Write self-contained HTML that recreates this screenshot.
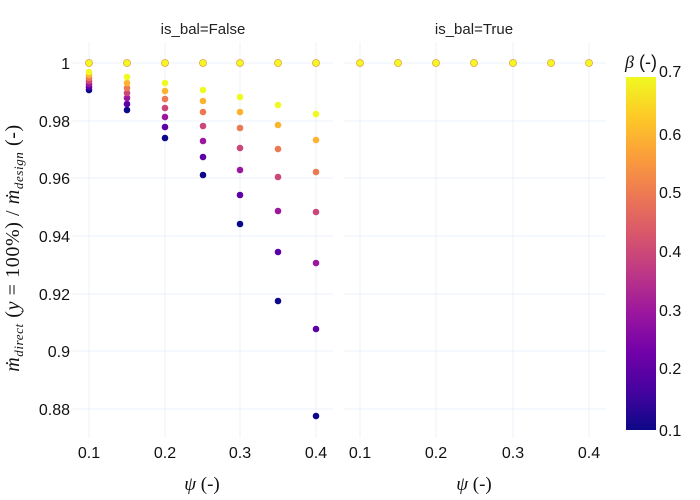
<!DOCTYPE html>
<html><head><meta charset="utf-8"><style>
html,body{margin:0;padding:0;background:#fff;}
svg{display:block;font-family:"Liberation Sans",sans-serif;}
</style></head><body>
<svg width="700" height="500" viewBox="0 0 700 500" xmlns="http://www.w3.org/2000/svg">
<defs>
<linearGradient id="pl" x1="0" y1="1" x2="0" y2="0">
<stop offset="0" stop-color="#0d0887"/><stop offset="0.111" stop-color="#46039f"/>
<stop offset="0.222" stop-color="#7201a8"/><stop offset="0.333" stop-color="#9c179e"/>
<stop offset="0.444" stop-color="#bd3786"/><stop offset="0.556" stop-color="#d8576b"/>
<stop offset="0.667" stop-color="#ed7953"/><stop offset="0.778" stop-color="#fb9f3a"/>
<stop offset="0.889" stop-color="#fdca26"/><stop offset="1" stop-color="#f0f921"/>
</linearGradient>
</defs>
<g stroke="#ebf0f8" stroke-width="1">
<line x1="72" x2="333" y1="63" y2="63"/><line x1="72" x2="333" y1="121" y2="121"/>
<line x1="72" x2="333" y1="178" y2="178"/><line x1="72" x2="333" y1="236" y2="236"/>
<line x1="72" x2="333" y1="294" y2="294"/><line x1="72" x2="333" y1="351" y2="351"/>
<line x1="72" x2="333" y1="409" y2="409"/>
<line x1="344" x2="606" y1="63" y2="63"/><line x1="344" x2="606" y1="121" y2="121"/>
<line x1="344" x2="606" y1="178" y2="178"/><line x1="344" x2="606" y1="236" y2="236"/>
<line x1="344" x2="606" y1="294" y2="294"/><line x1="344" x2="606" y1="351" y2="351"/>
<line x1="344" x2="606" y1="409" y2="409"/>
<line x1="89" x2="89" y1="42" y2="438"/><line x1="165" x2="165" y1="42" y2="438"/>
<line x1="240" x2="240" y1="42" y2="438"/><line x1="316" x2="316" y1="42" y2="438"/>
<line x1="360" x2="360" y1="42" y2="438"/><line x1="436" x2="436" y1="42" y2="438"/>
<line x1="513" x2="513" y1="42" y2="438"/><line x1="589" x2="589" y1="42" y2="438"/>
</g>
<g font-size="15" fill="#222" text-anchor="middle">
<text x="203" y="34">is_bal=False</text>
<text x="474" y="34">is_bal=True</text>
</g>
<g font-size="16" fill="#111" text-anchor="middle">
<text x="89" y="458">0.1</text><text x="165" y="458">0.2</text>
<text x="240" y="458">0.3</text><text x="316" y="458">0.4</text>
<text x="360" y="458">0.1</text><text x="436" y="458">0.2</text>
<text x="513" y="458">0.3</text><text x="589" y="458">0.4</text>
</g>
<g font-size="16" fill="#111" text-anchor="end">
<text x="70" y="69">1</text><text x="70" y="127">0.98</text>
<text x="70" y="184">0.96</text><text x="70" y="242">0.94</text>
<text x="70" y="300">0.92</text><text x="70" y="357">0.9</text>
<text x="70" y="415">0.88</text>
</g>
<g font-family="'Liberation Serif',serif" font-size="19" fill="#111" text-anchor="middle">
<text x="202" y="490"><tspan font-style="italic">ψ</tspan> (-)</text>
<text x="474" y="490"><tspan font-style="italic">ψ</tspan> (-)</text>
<text transform="translate(19,248) rotate(-90)" font-size="20" letter-spacing="0.6"><tspan font-style="italic">ṁ</tspan><tspan font-style="italic" font-size="13" dy="4">direct</tspan><tspan dy="-4"> (</tspan><tspan font-style="italic">y</tspan> = 100%) / <tspan font-style="italic">ṁ</tspan><tspan font-style="italic" font-size="13" dy="4">design</tspan><tspan dy="-4"> (-)</tspan></text>
</g>
<g>
<!-- psi 0.1 -->
<circle cx="89" cy="90" r="3.3" fill="#0d0887"/><circle cx="89" cy="87" r="3.3" fill="#5c02a4"/><circle cx="89" cy="84" r="3.3" fill="#9c179e"/><circle cx="89" cy="81" r="3.3" fill="#cb4679"/><circle cx="89" cy="78" r="3.3" fill="#ed7953"/><circle cx="89" cy="75" r="3.3" fill="#fcb430"/><circle cx="89" cy="72" r="3.3" fill="#f0f921"/>
<!-- 0.15 -->
<circle cx="127" cy="110" r="3.3" fill="#0d0887"/><circle cx="127" cy="104" r="3.3" fill="#5c02a4"/><circle cx="127" cy="98" r="3.3" fill="#9c179e"/><circle cx="127" cy="93" r="3.3" fill="#cb4679"/><circle cx="127" cy="88" r="3.3" fill="#ed7953"/><circle cx="127" cy="83" r="3.3" fill="#fcb430"/><circle cx="127" cy="77" r="3.3" fill="#f0f921"/>
<!-- 0.2 -->
<circle cx="165" cy="138" r="3.3" fill="#0d0887"/><circle cx="165" cy="127" r="3.3" fill="#5c02a4"/><circle cx="165" cy="117" r="3.3" fill="#9c179e"/><circle cx="165" cy="108" r="3.3" fill="#cb4679"/><circle cx="165" cy="99" r="3.3" fill="#ed7953"/><circle cx="165" cy="91" r="3.3" fill="#fcb430"/><circle cx="165" cy="83" r="3.3" fill="#f0f921"/>
<!-- 0.25 -->
<circle cx="203" cy="175" r="3.3" fill="#0d0887"/><circle cx="203" cy="157" r="3.3" fill="#5c02a4"/><circle cx="203" cy="141" r="3.3" fill="#9c179e"/><circle cx="203" cy="126" r="3.3" fill="#cb4679"/><circle cx="203" cy="112" r="3.3" fill="#ed7953"/><circle cx="203" cy="101" r="3.3" fill="#fcb430"/><circle cx="203" cy="90" r="3.3" fill="#f0f921"/>
<!-- 0.3 -->
<circle cx="240" cy="224" r="3.3" fill="#0d0887"/><circle cx="240" cy="195" r="3.3" fill="#5c02a4"/><circle cx="240" cy="170" r="3.3" fill="#9c179e"/><circle cx="240" cy="148" r="3.3" fill="#cb4679"/><circle cx="240" cy="128" r="3.3" fill="#ed7953"/><circle cx="240" cy="112" r="3.3" fill="#fcb430"/><circle cx="240" cy="97" r="3.3" fill="#f0f921"/>
<!-- 0.35 -->
<circle cx="278" cy="301" r="3.3" fill="#0d0887"/><circle cx="278" cy="252" r="3.3" fill="#5c02a4"/><circle cx="278" cy="211" r="3.3" fill="#9c179e"/><circle cx="278" cy="177" r="3.3" fill="#cb4679"/><circle cx="278" cy="149" r="3.3" fill="#ed7953"/><circle cx="278" cy="125" r="3.3" fill="#fcb430"/><circle cx="278" cy="105" r="3.3" fill="#f0f921"/>
<!-- 0.4 -->
<circle cx="316" cy="416" r="3.3" fill="#0d0887"/><circle cx="316" cy="329" r="3.3" fill="#5c02a4"/><circle cx="316" cy="263" r="3.3" fill="#9c179e"/><circle cx="316" cy="212" r="3.3" fill="#cb4679"/><circle cx="316" cy="172" r="3.3" fill="#ed7953"/><circle cx="316" cy="140" r="3.3" fill="#fcb430"/><circle cx="316" cy="114" r="3.3" fill="#f0f921"/>
</g>
<g fill="#f0f921" stroke="#e8a040" stroke-width="0.8">
<circle cx="89" cy="63" r="3.5"/><circle cx="127" cy="63" r="3.5"/><circle cx="165" cy="63" r="3.5"/><circle cx="203" cy="63" r="3.5"/><circle cx="240" cy="63" r="3.5"/><circle cx="278" cy="63" r="3.5"/><circle cx="316" cy="63" r="3.5"/>
<circle cx="360" cy="63" r="3.5"/><circle cx="398" cy="63" r="3.5"/><circle cx="436" cy="63" r="3.5"/><circle cx="474" cy="63" r="3.5"/><circle cx="513" cy="63" r="3.5"/><circle cx="551" cy="63" r="3.5"/><circle cx="589" cy="63" r="3.5"/>
</g>
<rect x="626" y="77" width="30" height="353" fill="url(#pl)"/>
<g font-size="16" fill="#111">
<text x="659" y="77">0.7</text><text x="659" y="140">0.6</text>
<text x="659" y="198">0.5</text><text x="659" y="257">0.4</text>
<text x="659" y="316">0.3</text><text x="659" y="374">0.2</text>
<text x="659" y="436">0.1</text>
</g>
<text x="625" y="68" font-size="18" fill="#111"><tspan font-family="'Liberation Serif',serif" font-style="italic">β</tspan> (-)</text>
</svg>
</body></html>
